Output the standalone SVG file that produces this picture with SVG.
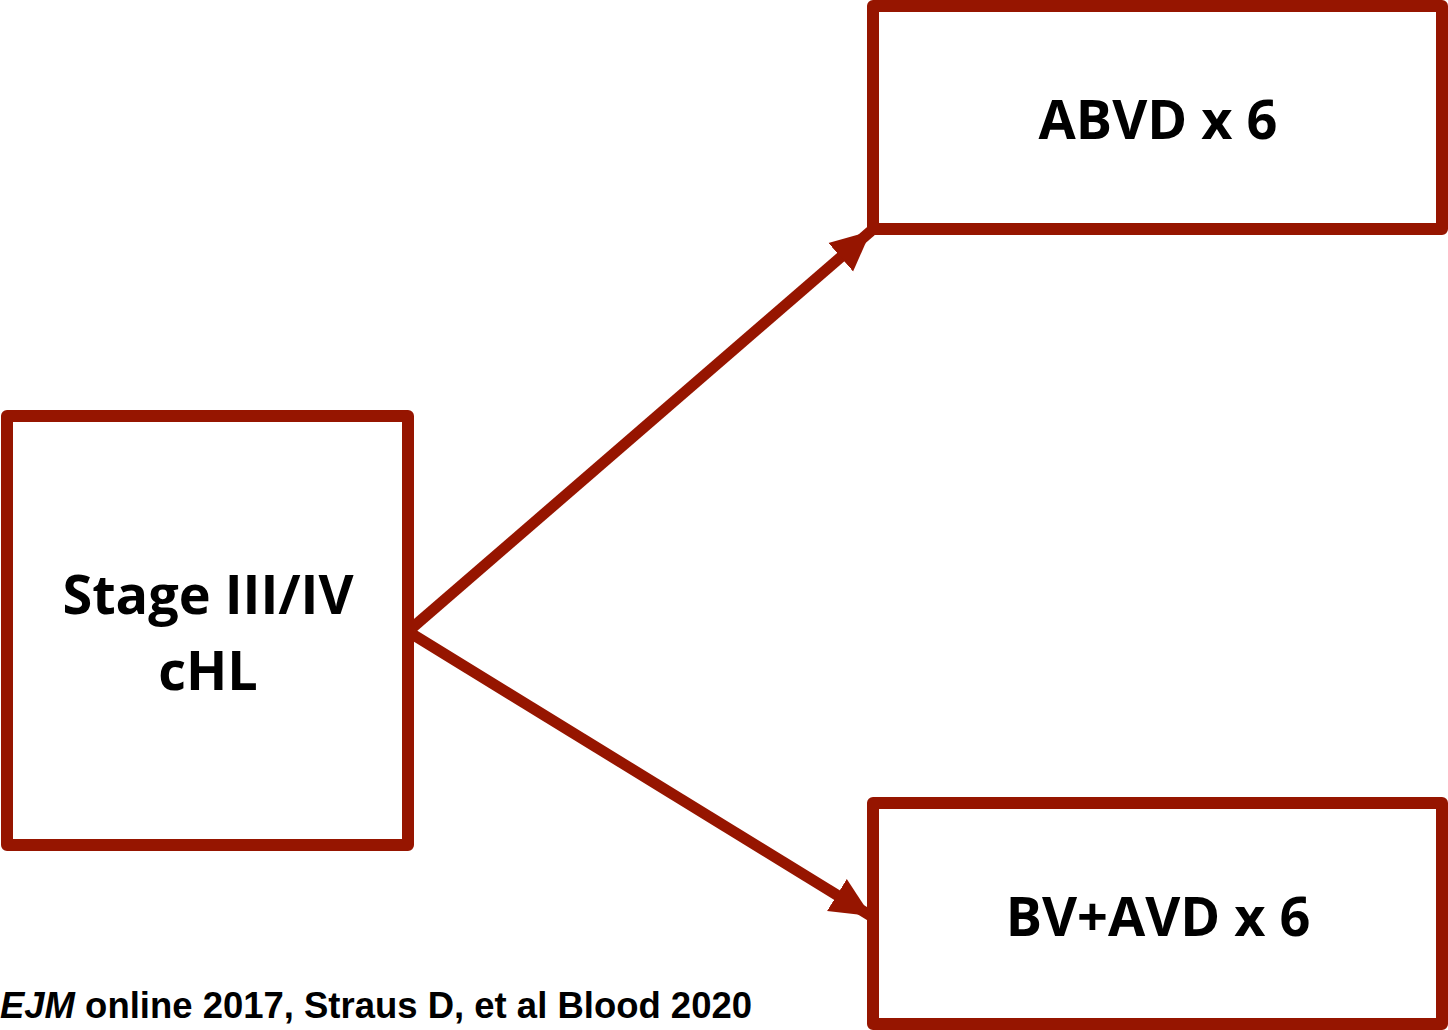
<svg xmlns="http://www.w3.org/2000/svg" width="1448" height="1030" viewBox="0 0 1448 1030">
<style>
.box{fill:#fff;stroke:#961500;stroke-width:12;stroke-linejoin:round}
.lbl{font-family:"Open Sans","Liberation Sans",sans-serif;font-weight:bold;font-size:54px;fill:#000;text-anchor:middle}
.conn{stroke:#961500;stroke-width:11;fill:none}
.foot{font-family:"Liberation Sans",Arial,sans-serif;font-weight:bold;font-size:37px;fill:#000}
</style>
<defs>
<marker id="ah" markerUnits="userSpaceOnUse" markerWidth="40" markerHeight="40" refX="34" refY="16" orient="auto" viewBox="0 0 34 32">
<path d="M0,0 L34,16 L0,32 Z" fill="#961500"/>
</marker>
</defs>
<rect width="1448" height="1030" fill="#fff"/>
<g id="connectors">
<line class="conn" x1="412" y1="628" x2="871" y2="231" marker-end="url(#ah)"/>
<line class="conn" x1="412" y1="634" x2="871" y2="916" marker-end="url(#ah)"/>
</g>
<g id="node-stage">
<rect class="box" x="7" y="416" width="401" height="429"/>
<text class="lbl" x="208" y="614">Stage III/IV</text>
<text class="lbl" x="208" y="690">cHL</text>
</g>
<g id="node-abvd">
<rect class="box" x="873" y="6" width="569" height="223"/>
<text class="lbl" x="1158" y="139">ABVD x 6</text>
</g>
<g id="node-bvavd">
<rect class="box" x="873" y="803" width="569" height="221"/>
<text class="lbl" x="1158" y="936">BV+AVD x 6</text>
</g>
<g id="footnote">
<text class="foot" x="0" y="1018" textLength="752" lengthAdjust="spacingAndGlyphs"><tspan font-style="italic">EJM</tspan> online 2017, Straus D, et al Blood 2020</text>
</g>
</svg>
